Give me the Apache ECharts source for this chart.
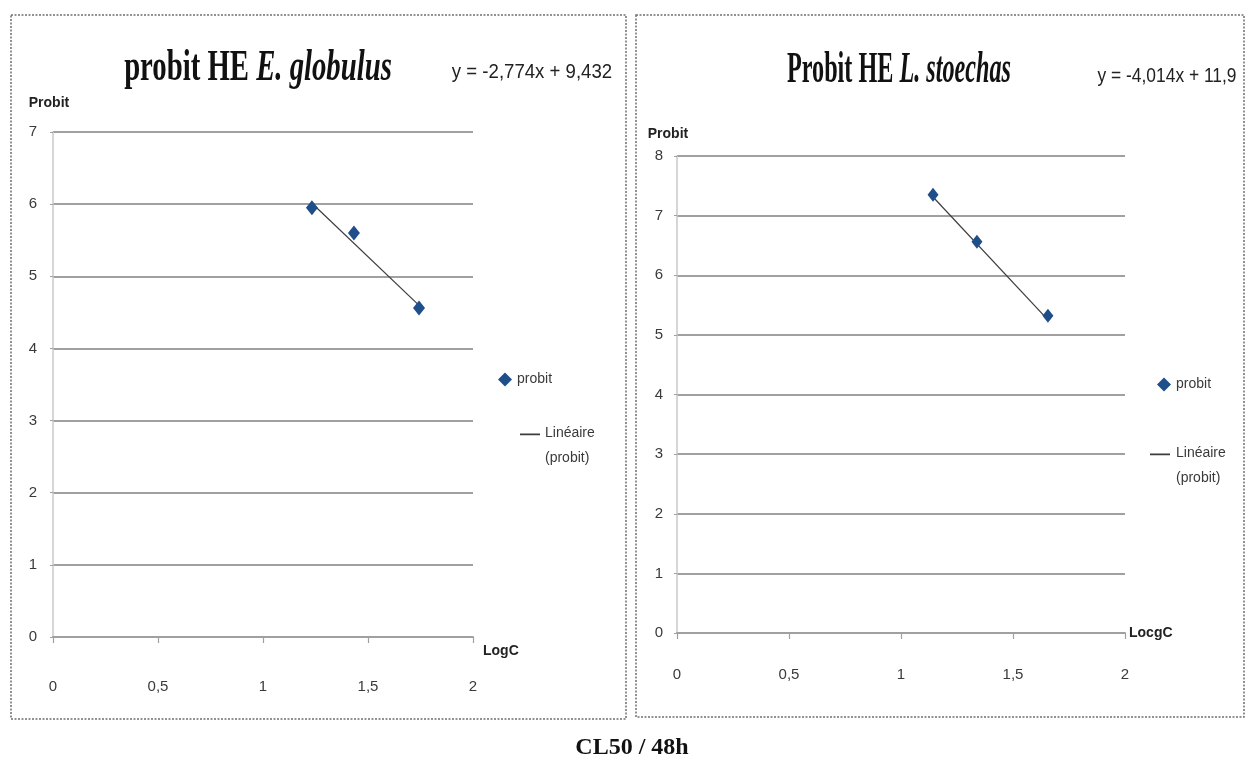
<!DOCTYPE html>
<html>
<head>
<meta charset="utf-8">
<title>Probit – CL50 / 48h</title>
<script src="https://cdn.jsdelivr.net/npm/echarts@6/dist/echarts.min.js"></script>
<style>
  html, body { margin: 0; padding: 0; background: #fff; }
  #chart { width: 1249px; height: 767px; }
</style>
</head>
<body>
<div id="chart"></div>
<script>
// Probit vs log concentration, E. globulus essential oil
const egLogC = [1.233, 1.433, 1.743];
const egProbit = [5.95, 5.60, 4.56];
const egSlope = -2.774;
const egIntercept = 9.432;

// Probit vs log concentration, L. stoechas essential oil
const lsLogC = [1.143, 1.339, 1.656];
const lsProbit = [7.35, 6.56, 5.32];
const lsSlope = -4.014;
const lsIntercept = 11.9;

const xTicks = [0, 0.5, 1, 1.5, 2];
const egYMax = 7;
const lsYMax = 8;

const axisFont = 'Liberation Sans, Arial, sans-serif';
const serifFont = 'Liberation Serif, Times New Roman, serif';
const gridColor = '#a0a0a0';
const textColor = '#3a3a3a';
const markColor = '#1f4f8a';
const trendColor = '#3c3c3c';

// legend glyph for the trend line: a short stroke sitting on the first text line
const trendIcon = 'path://M0,0L20,0L20,1.7L0,1.7Z M0,25L0.01,25L0,25.01Z';

function fr(v) { return String(v).replace('.', ','); }

// trend line over the span of the measured points, from the fitted equation
function trend(xs, a, b) {
  const lo = Math.min(...xs), hi = Math.max(...xs);
  return [[lo, a * lo + b], [hi, a * hi + b]];
}
function equation(a, b) {
  return 'y = ' + fr(a) + 'x + ' + fr(b);
}

function xAxisFor(gridIndex, name, margin, nameGap, nameExtra) {
  return {
    gridIndex, type: 'value', min: xTicks[0], max: xTicks[xTicks.length - 1], interval: 0.5,
    name, nameLocation: 'end', nameGap,
    nameTextStyle: Object.assign({ fontFamily: axisFont, fontWeight: 'bold', fontSize: 14, color: '#222' }, nameExtra),
    axisLine: { show: true, lineStyle: { color: gridColor, width: 2 } },
    axisTick: { show: true, length: 6, lineStyle: { color: gridColor, width: 1.2 } },
    axisLabel: { margin, fontFamily: axisFont, fontSize: 15, color: textColor, formatter: v => fr(v) },
    splitLine: { show: false }
  };
}
function yAxisFor(gridIndex, max, labelMargin, nameGap, namePad) {
  return {
    gridIndex, type: 'value', min: 0, max, interval: 1,
    name: 'Probit', nameLocation: 'end', nameGap,
    nameTextStyle: { fontFamily: axisFont, fontWeight: 'bold', fontSize: 14, color: '#222', padding: namePad },
    axisLine: { show: true, lineStyle: { color: '#c9c9c9', width: 1.5 } },
    axisTick: { show: true, length: 3, lineStyle: { color: gridColor } },
    axisLabel: { margin: labelMargin, fontFamily: axisFont, fontSize: 15, color: textColor },
    splitLine: { show: true, lineStyle: { color: gridColor, width: 2 } }
  };
}

const legendText = { fontFamily: axisFont, fontSize: 14, color: textColor, lineHeight: 25 };

function titleText(x, y, scaleX, plain, italic) {
  return { type: 'text', x, y, scaleX, silent: true,
    style: { text: '{a|' + plain + '}{b|' + italic + '}', align: 'center', verticalAlign: 'middle',
      rich: {
        a: { fontFamily: serifFont, fontWeight: 'bold', fontSize: 44, fill: '#111' },
        b: { fontFamily: serifFont, fontWeight: 'bold', fontStyle: 'italic', fontSize: 44, fill: '#111' }
      } } };
}
function equationText(x, y, scaleX, a, b) {
  return { type: 'text', x, y, scaleX, silent: true,
    style: { text: equation(a, b), align: 'center', verticalAlign: 'middle',
      fontFamily: axisFont, fontSize: 20, fill: '#222' } };
}

const option = {
  animation: false,
  backgroundColor: '#fff',
  grid: [
    { left: 53, right: 776, top: 132, bottom: 130 },
    { left: 677, right: 124, top: 156, bottom: 134 }
  ],
  xAxis: [
    xAxisFor(0, 'LogC', 42, 10, { verticalAlign: 'top', padding: [7, 0, 0, 0] }),
    xAxisFor(1, 'LocgC', 34, 4, {})
  ],
  yAxis: [
    yAxisFor(0, egYMax, 16, 22, [0, 8, 0, 0]),
    yAxisFor(1, lsYMax, 14, 15, [0, 18, 0, 0])
  ],
  legend: [
    { left: 493, top: 362, itemWidth: 14, itemHeight: 14, textStyle: legendText,
      data: [{ name: 'probit', icon: 'diamond' }] },
    { left: 515, top: 416, itemWidth: 20, itemHeight: 25, textStyle: legendText,
      formatter: n => n.replace(' ', '\n'), data: [{ name: 'Linéaire (probit)', icon: trendIcon }] },
    { left: 1152, top: 367, itemWidth: 14, itemHeight: 14, textStyle: legendText,
      data: [{ name: 'probit', icon: 'diamond' }] },
    { left: 1145, top: 436, itemWidth: 22, itemHeight: 25, textStyle: legendText,
      formatter: n => n.replace(' ', '\n'), data: [{ name: 'Linéaire (probit)', icon: trendIcon }] }
  ],
  series: [
    { name: 'Linéaire (probit)', type: 'line', xAxisIndex: 0, yAxisIndex: 0,
      data: trend(egLogC, egSlope, egIntercept), symbol: 'none',
      lineStyle: { color: trendColor, width: 1.2 }, itemStyle: { color: trendColor }, z: 3 },
    { name: 'probit', type: 'scatter', xAxisIndex: 0, yAxisIndex: 0,
      data: egLogC.map((x, i) => [x, egProbit[i]]), symbol: 'diamond', symbolSize: [12, 15],
      itemStyle: { color: markColor, opacity: 1 }, z: 4 },
    { name: 'Linéaire (probit)', type: 'line', xAxisIndex: 1, yAxisIndex: 1,
      data: trend(lsLogC, lsSlope, lsIntercept), symbol: 'none',
      lineStyle: { color: trendColor, width: 1.2 }, itemStyle: { color: trendColor }, z: 3 },
    { name: 'probit', type: 'scatter', xAxisIndex: 1, yAxisIndex: 1,
      data: lsLogC.map((x, i) => [x, lsProbit[i]]), symbol: 'diamond', symbolSize: [11, 14],
      itemStyle: { color: markColor, opacity: 1 }, z: 4 }
  ],
  graphic: [
    // panel frames
    { type: 'rect', shape: { x: 11, y: 15, width: 615, height: 704 }, silent: true,
      style: { fill: 'none', stroke: '#6f6f6f', lineWidth: 1.5, lineDash: [2, 1.5] } },
    { type: 'rect', shape: { x: 636, y: 15, width: 608, height: 702 }, silent: true,
      style: { fill: 'none', stroke: '#6f6f6f', lineWidth: 1.5, lineDash: [2, 1.5] } },
    // chart titles
    titleText(258, 69, 0.653, 'probit HE ', 'E. globulus'),
    titleText(899, 71, 0.55, 'Probit HE ', 'L. stoechas'),
    // fitted equations
    equationText(532, 72, 0.93, egSlope, egIntercept),
    equationText(1167, 76, 0.87, lsSlope, lsIntercept),
    // caption
    { type: 'text', x: 632, y: 748, silent: true,
      style: { text: 'CL50 / 48h', align: 'center', verticalAlign: 'middle',
        fontFamily: serifFont, fontWeight: 'bold', fontSize: 24, fill: '#111' } }
  ]
};

const chart = echarts.init(document.getElementById('chart'), null, { renderer: 'canvas' });
chart.setOption(option);
</script>
</body>
</html>
